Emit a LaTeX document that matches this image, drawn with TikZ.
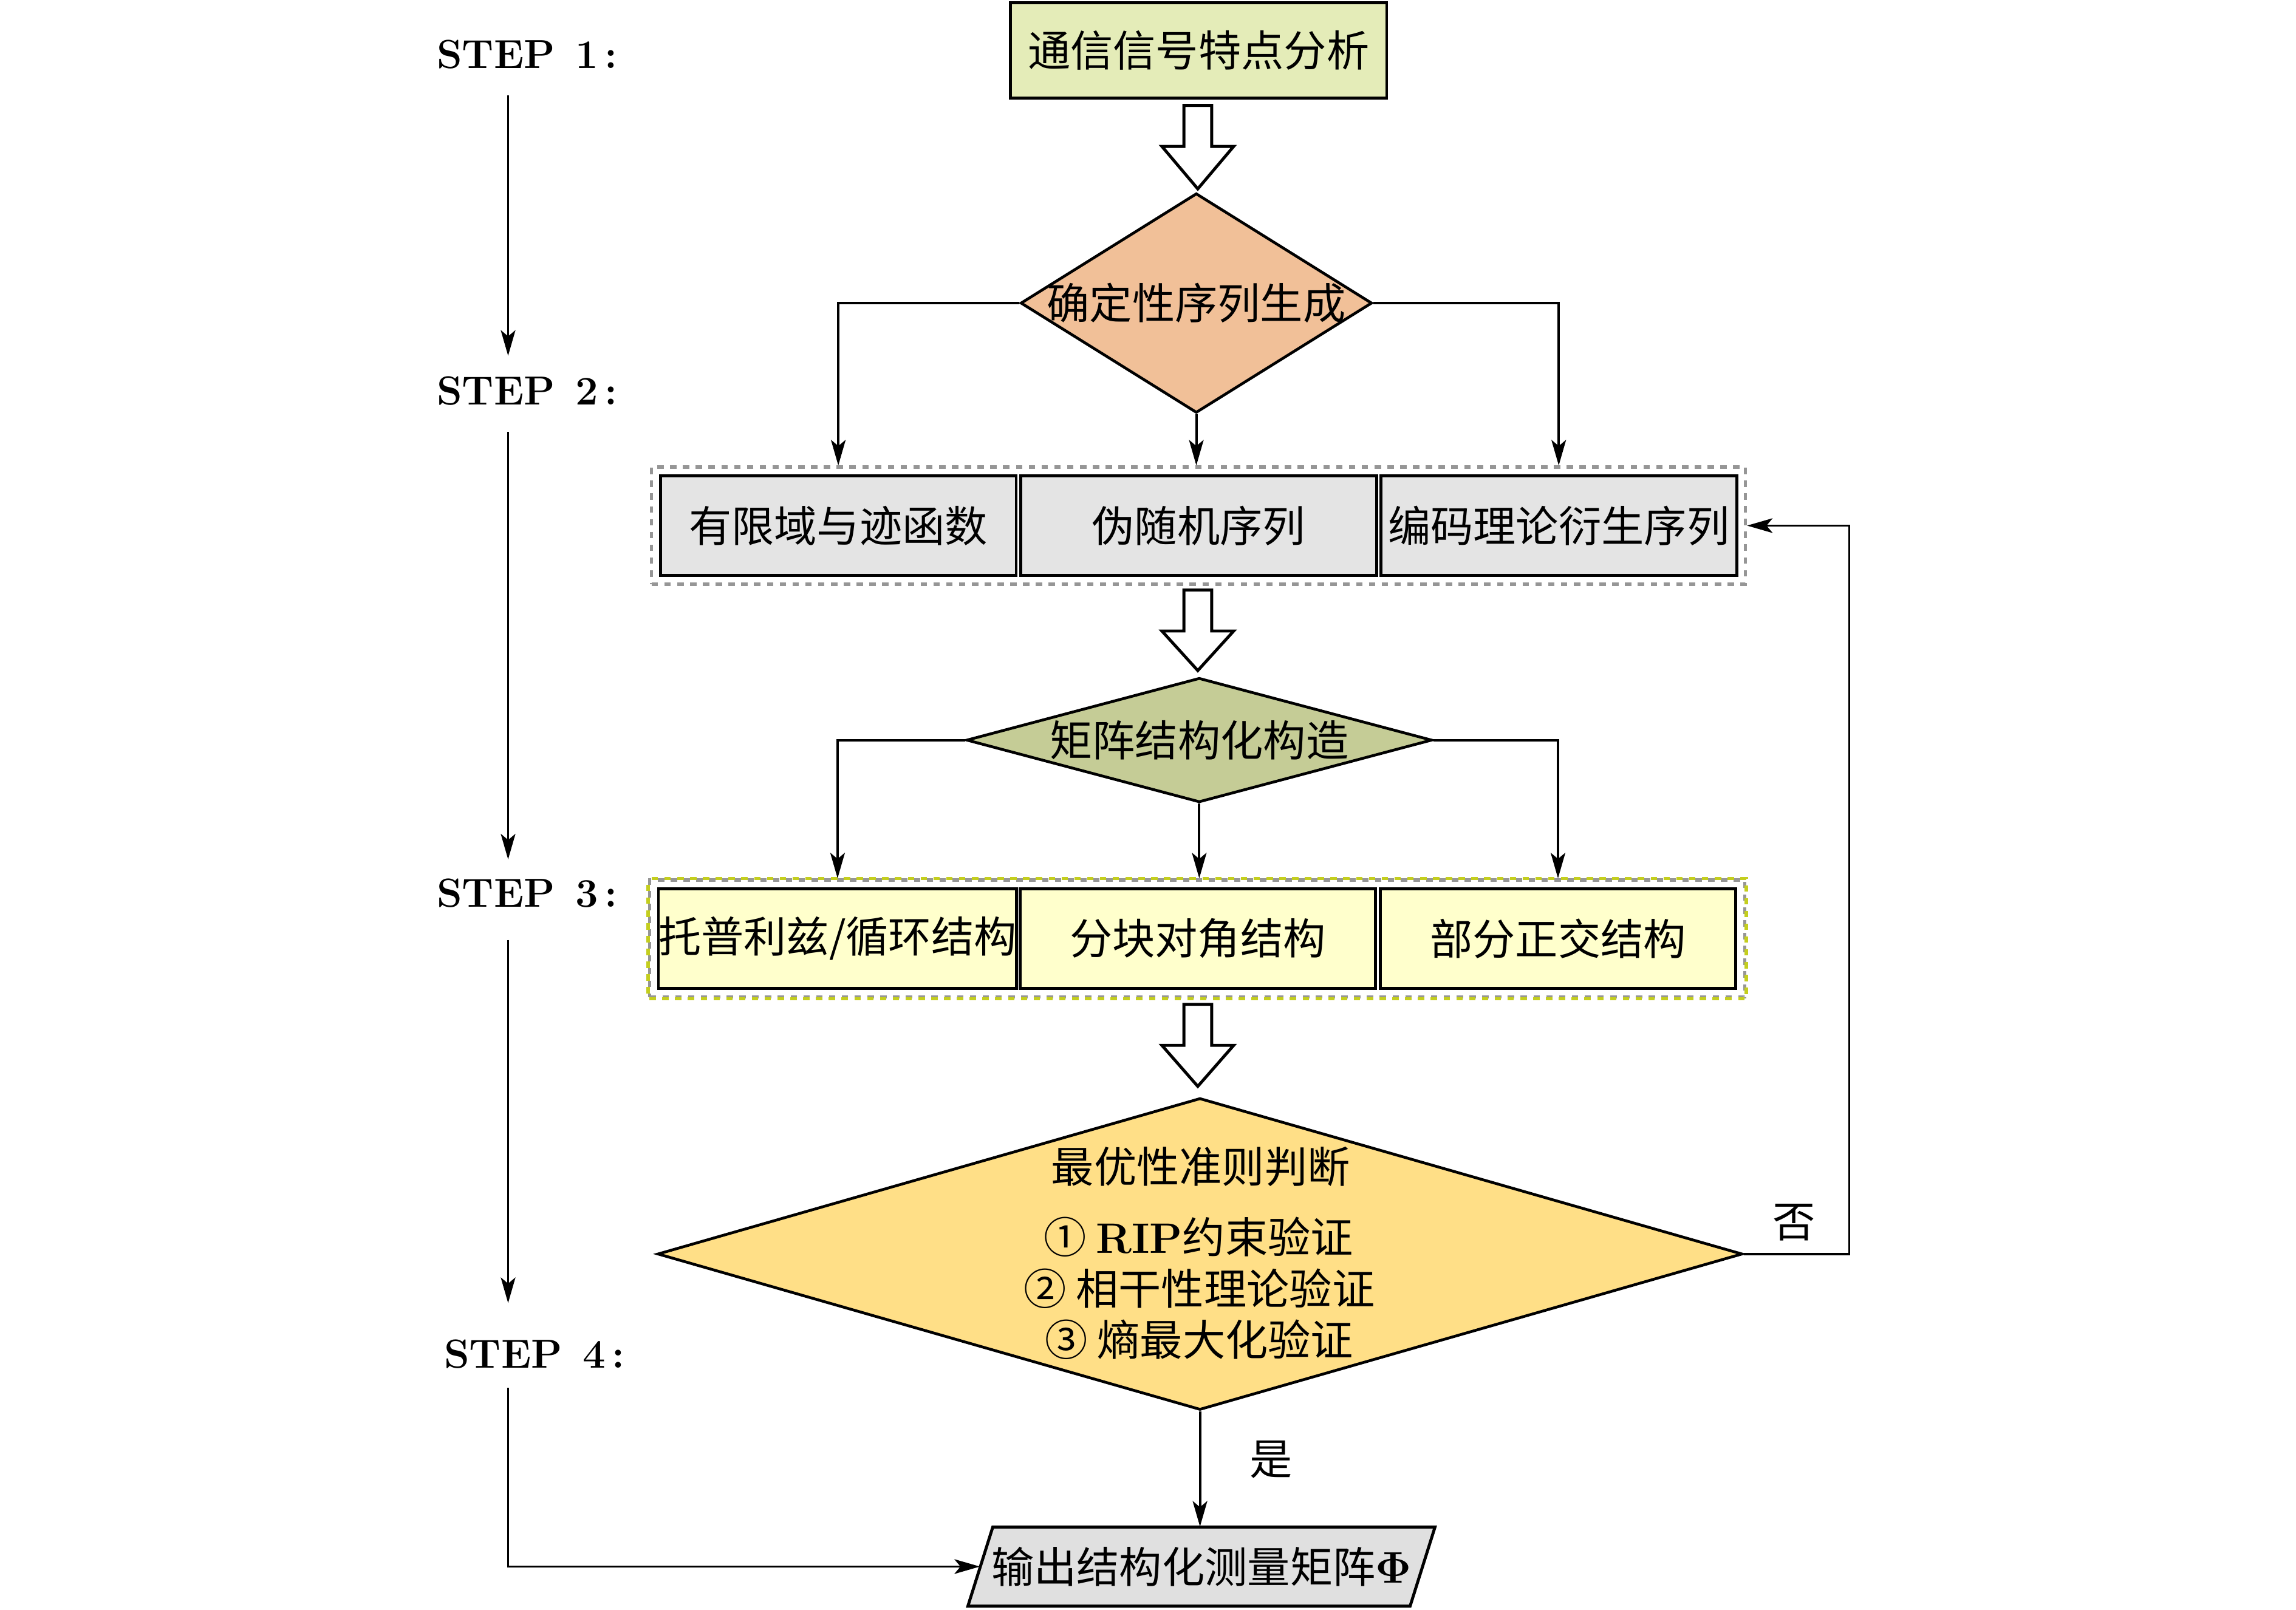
\documentclass[tikz,border=0pt]{standalone}
\usepackage[no-math]{fontspec}
\newfontfamily\cjk{Noto Sans CJK SC}
\usetikzlibrary{shapes.geometric,arrows.meta,fit,calc}
\definecolor{topfill}{RGB}{228,236,184}
\definecolor{dafill}{RGB}{241,192,152}
\definecolor{grayfill}{RGB}{228,228,228}
\definecolor{dbfill}{RGB}{197,204,150}
\definecolor{yelfill}{RGB}{255,255,204}
\definecolor{dcfill}{RGB}{255,223,135}
\definecolor{plfill}{RGB}{224,224,224}
\definecolor{ygreen}{RGB}{196,206,30}
\definecolor{dgray}{RGB}{150,150,150}
\newcommand\zh{\cjk\fontsize{20}{24}\selectfont}
\newcommand\harrow[3]{\draw[line width=1.4pt, fill=white, line join=miter] (808.5,#1) -- (827.5,#1) -- (827.5,#2) -- (842.5,#2) -- (818,#3) -- (793.5,#2) -- (808.5,#2) -- cycle;}
\begin{document}
\begin{tikzpicture}[x=0.024107cm,y=-0.024107cm,
  box/.style={draw, line width=1.4pt, inner sep=0pt, minimum width=5.858cm, minimum height=1.639cm, font=\zh},
  dia/.style={draw, diamond, line width=1.3pt, inner sep=0pt},
  arr/.style={-{Stealth[length=0.42cm,width=0.24cm,inset=0.1cm]}, line width=1.1pt},
  lbl/.style={font=\zh, inner sep=0pt},
  steplbl/.style={font=\bfseries\fontsize{19}{23}\selectfont, inner sep=0pt}]
\useasboundingbox (0,0) rectangle (1568,1099.3);

% step 1
\node[box, fill=topfill, minimum width=6.196cm, minimum height=1.567cm] (top) at (818.5,34.5) {通信信号特点分析};
\harrow{72}{100}{129}

% step 2
\node[dia, fill=dafill, minimum width=5.786cm, minimum height=3.616cm] (d1) at (817,207) {};
\node[lbl] at (d1) {确定性序列生成};
\node[box, fill=grayfill] (b1) at (572.5,359) {有限域与迹函数};
\node[box, fill=grayfill] (b2) at (818.5,359) {伪随机序列};
\node[box, fill=grayfill] (b3) at (1064.5,359) {编码理论衍生序列};
\node[fit=(b1)(b3), inner sep=0.12cm, draw=dgray, line width=1.5pt, dash pattern=on 3pt off 3pt] (g1) {};
\draw[arr] (d1.west) -| (b1.north |- g1.north);
\draw[arr] (d1.east) -| (b3.north |- g1.north);
\draw[arr] (d1.south) -- (d1.south |- g1.north);
\harrow{403}{431}{458}

% step 3
\node[dia, fill=dbfill, minimum width=7.666cm, minimum height=2.049cm] (d2) at (819,505.5) {};
\node[lbl] at (d2) {矩阵结构化构造};
\node[box, fill=yelfill] (c1) at (572,641) {托普利兹/循环结构};
\node[box, fill=yelfill] (c2) at (818,641) {分块对角结构};
\node[box, fill=yelfill] (c3) at (1064,641) {部分正交结构};
\node[fit=(c1)(c3), inner sep=0.12cm, draw=dgray, line width=1.5pt, dash pattern=on 3pt off 3pt] (g2) {};
\draw[ygreen, line width=1.5pt, dash pattern=on 3pt off 3pt, dash phase=3pt] (g2.north west) rectangle (g2.south east);
\draw[arr] (d2.west) -| (c1.north |- g2.north);
\draw[arr] (d2.east) -| (c3.north |- g2.north);
\draw[arr] (d2.south) -- (d2.south |- g2.north);
\harrow{686}{714}{742}

% step 4
\node[dia, fill=dcfill, minimum width=17.863cm, minimum height=5.135cm] (d3) at (819.5,856.5) {};
\node[lbl] (t0) at (820,797) {最优性准则判断};
\node[lbl] (t1) at (818.5,845) {① {\rmfamily\bfseries RIP}约束验证};
\node[lbl] (t2) at (819,880) {② 相干性理论验证};
\node[lbl] (t3) at (819,915) {③ 熵最大化验证};
\draw[arr] (d3.east) -- ++(72,0) |- (g1.east);
\node[lbl] (no) at (1225,835) {否};

\coordinate (plc) at (820.5,1070);
\draw[line width=1.4pt, fill=plfill] ($(plc)+(-142.5,-27)$) -- ($(plc)+(159.5,-27)$) -- ($(plc)+(142.5,27)$) -- ($(plc)+(-159.5,27)$) -- cycle;
\node[font=\zh, minimum width=7.28cm, minimum height=1.302cm, inner sep=0pt] (pl) at (plc) {输出结构化测量矩阵$\mathbf{\Phi}$};
\draw[arr] (d3.south) -- (d3.south |- pl.north);
\node[lbl] (yes) at (868,997) {是};

% step labels
\node[steplbl] (s1) at (360,37) {STEP\enspace 1\,:};
\node[steplbl] (s2) at (360,267) {STEP\enspace 2\,:};
\node[steplbl] (s3) at (360,610) {STEP\enspace 3\,:};
\node[steplbl] (s4) at (365,925) {STEP\enspace 4\,:};
\coordinate (a1) at (347,65);
\coordinate (a2) at (347,243);
\coordinate (a3) at (347,295);
\coordinate (a4) at (347,587);
\coordinate (a5) at (347,642);
\coordinate (a6) at (347,890);
\coordinate (a7) at (347,948);
\draw[arr] (a1) -- (a2);
\draw[arr] (a3) -- (a4);
\draw[arr] (a5) -- (a6);
\draw[arr] (a7) |- (pl.west);
\end{tikzpicture}
\end{document}
